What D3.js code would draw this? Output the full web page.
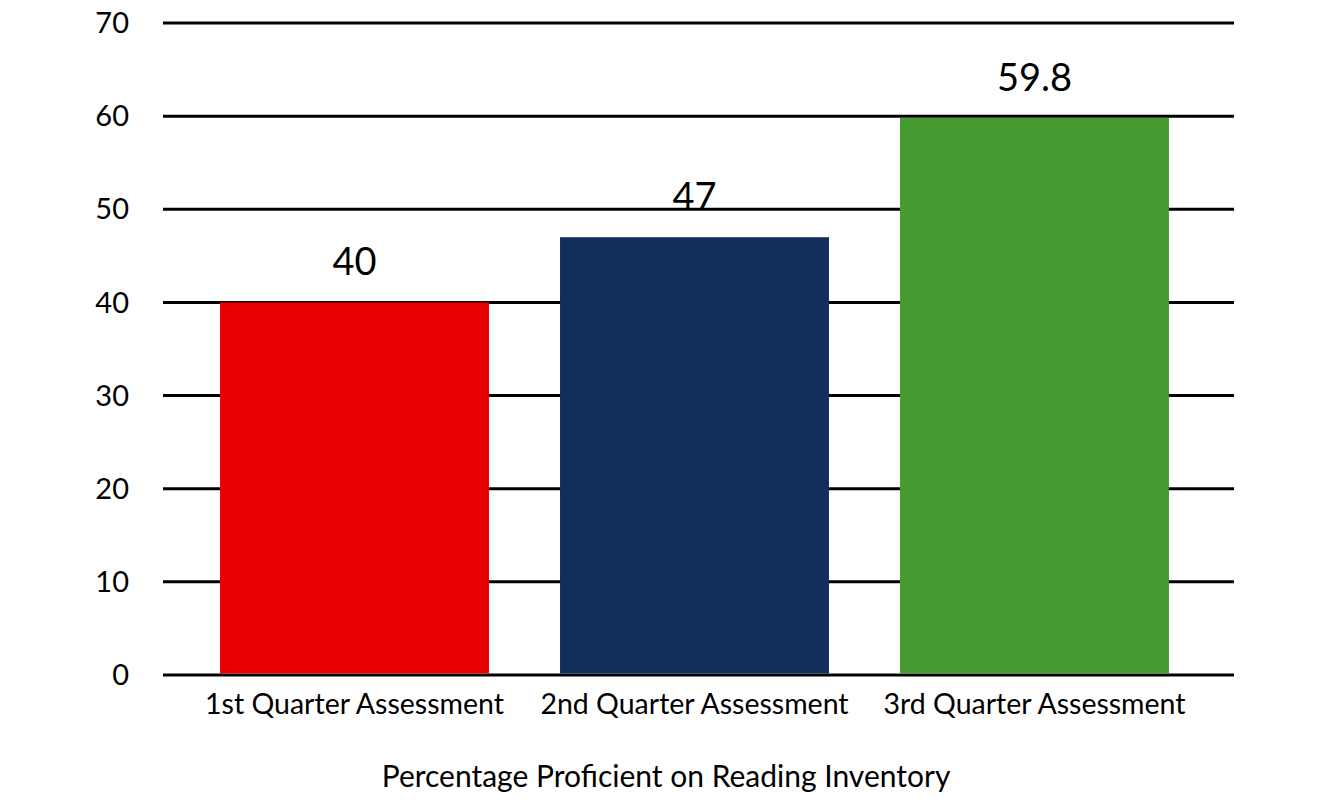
<!DOCTYPE html>
<html>
<head>
<meta charset="utf-8">
<script src="https://cdn.jsdelivr.net/npm/d3@7"></script>
<style>
  body { margin: 0; background: #fff; }
  text { font-family: Lato, "Open Sans", sans-serif; fill: #000; }
</style>
</head>
<body>
<div id="chart"></div>
<script>
"use strict";

var categories = ["1st Quarter Assessment", "2nd Quarter Assessment", "3rd Quarter Assessment"];
var values = [40, 47, 59.8];
var valueLabels = ["40", "47", "59.8"];
var barColors = ["#e80000", "#132d5c", "#459a32"];
var yTicks = [0, 10, 20, 30, 40, 50, 60, 70];
var axisTitle = "Percentage Proficient on Reading Inventory";

var width = 1334;
var height = 806;

var svg = d3.select("#chart").append("svg")
	.attr("width", width)
	.attr("height", height);

var gridLeft = 163, gridRight = 1234;

var y = d3.scaleLinear()
	.domain([0, 70])
	.range([675, 23]);

var x = d3.scaleBand()
	.domain(categories)
	.range([184.5, 1204.5])
	.paddingInner(0.209)
	.paddingOuter(0.1045);

// gridlines
svg.append("g").selectAll("line")
	.data(yTicks)
	.enter()
	.append("line")
	.attr("x1", gridLeft)
	.attr("x2", gridRight)
	.attr("y1", function(d) { return y(d); })
	.attr("y2", function(d) { return y(d); })
	.attr("stroke", "#000")
	.attr("stroke-width", 3);

// y tick labels
svg.append("g").selectAll("text")
	.data(yTicks)
	.enter()
	.append("text")
	.attr("x", 129)
	.attr("y", function(d) { return y(d); })
	.attr("dy", "0.35em")
	.attr("text-anchor", "end")
	.attr("font-size", 29)
	.text(function(d) { return d; });

// bars
svg.append("g").selectAll("rect")
	.data(values)
	.enter()
	.append("rect")
	.attr("x", function(d, i) { return x(categories[i]); })
	.attr("y", function(d) { return y(d); })
	.attr("width", x.bandwidth())
	.attr("height", function(d) { return y(0) - 1.5 - y(d); })
	.attr("fill", function(d, i) { return barColors[i]; });

// value labels
svg.append("g").selectAll("text")
	.data(values)
	.enter()
	.append("text")
	.attr("x", function(d, i) { return x(categories[i]) + x.bandwidth() / 2; })
	.attr("y", function(d) { return y(d) - 27; })
	.attr("text-anchor", "middle")
	.attr("font-size", 38)
	.text(function(d, i) { return valueLabels[i]; });

// category labels
svg.append("g").selectAll("text")
	.data(categories)
	.enter()
	.append("text")
	.attr("x", function(d) { return x(d) + x.bandwidth() / 2; })
	.attr("y", 714)
	.attr("text-anchor", "middle")
	.attr("font-size", 28.5)
	.text(function(d) { return d; });

svg.append("text")
	.attr("x", 666)
	.attr("y", 787)
	.attr("text-anchor", "middle")
	.attr("font-size", 30)
	.text(axisTitle);
</script>
</body>
</html>
